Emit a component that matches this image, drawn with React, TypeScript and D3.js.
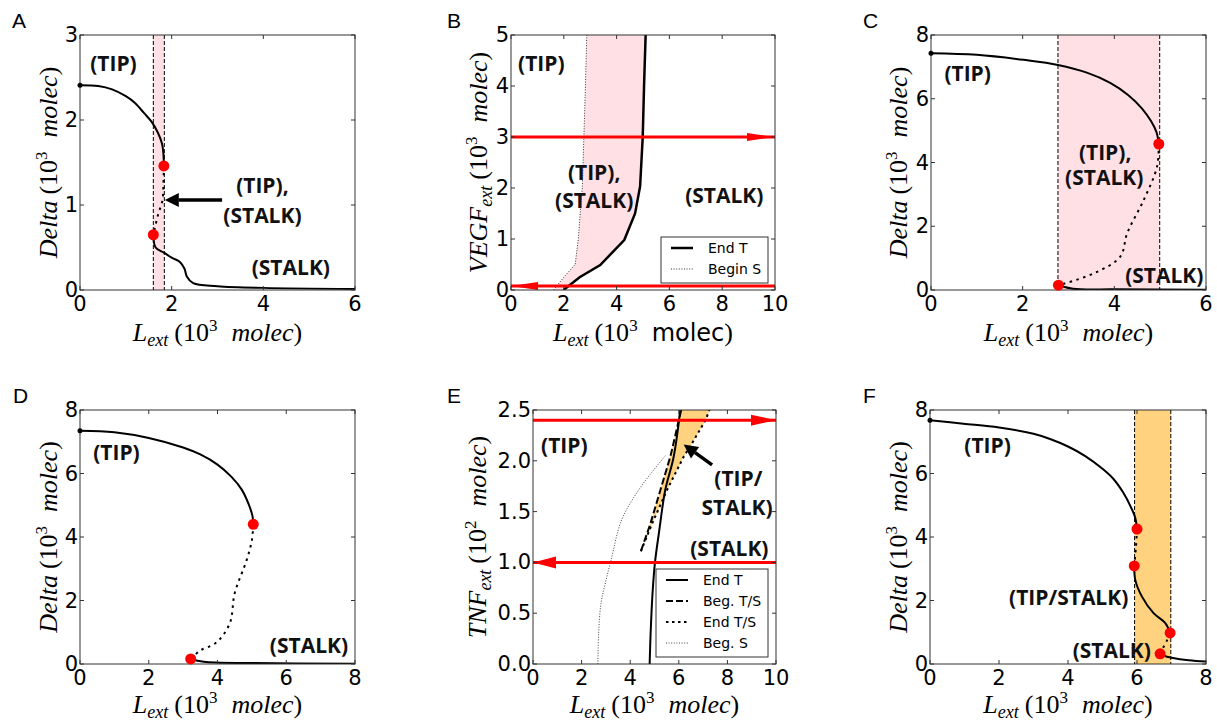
import * as d3 from "d3";
import React from "react";

type Pt = [number, number];

// ---- A: Delta vs L_ext ----
const aTip: Pt[] = [[0, 2.41], [0.4, 2.4], [0.7, 2.36], [1.0, 2.28], [1.2, 2.2], [1.4, 2.08], [1.56, 1.98], [1.7, 1.85], [1.79, 1.72], [1.82, 1.6], [1.83, 1.46]];
const aMid: Pt[] = [[1.83, 1.46], [1.82, 1.25], [1.8, 1.06], [1.7, 0.88], [1.6, 0.65]];
const aStalk: Pt[] = [[1.6, 0.65], [1.65, 0.5], [1.83, 0.44], [2.0, 0.38], [2.18, 0.33], [2.28, 0.25], [2.33, 0.16], [2.47, 0.08], [3.0, 0.045], [4.0, 0.025], [6.0, 0.012]];
const aBand: Pt = [1.6, 1.84];
const aDots: Pt[] = [[1.83, 1.46], [1.6, 0.65]];

// ---- B: VEGF_ext vs L_ext ----
const bEndT: Pt[] = [[1.99, 0], [2.6, 0.25], [3.38, 0.49], [4.29, 0.98], [4.7, 1.5], [4.89, 2.03], [4.99, 3.0], [5.04, 4.0], [5.1, 5.0]];
const bBeginS: Pt[] = [[1.61, 0], [2.0, 0.25], [2.43, 0.5], [2.55, 1.0], [2.62, 1.5], [2.7, 2.0], [2.76, 3.0], [2.82, 4.0], [2.87, 5.0]];
const bVegfHigh = 3;
const bVegfLow = 0.08;

// ---- C ----
const cTip: Pt[] = [[0, 7.43], [1.0, 7.38], [2.02, 7.22], [2.77, 7.06], [3.4, 6.82], [3.91, 6.5], [4.3, 6.12], [4.6, 5.7], [4.8, 5.3], [4.92, 4.95], [4.97, 4.58]];
const cMid: Pt[] = [[4.97, 4.58], [4.93, 3.86], [4.64, 2.82], [4.28, 1.78], [4.13, 1.05], [3.55, 0.52], [2.78, 0.15]];
const cStalk: Pt[] = [[2.78, 0.15], [3.1, 0.04], [4, 0.02], [6, 0.01]];
const cBand: Pt = [2.77, 4.99];
const cDots: Pt[] = [[4.97, 4.58], [2.78, 0.15]];

// ---- D ----
const dTip: Pt[] = [[0, 7.35], [1, 7.3], [2, 7.12], [3.0, 6.82], [3.5, 6.6], [4.0, 6.28], [4.4, 5.9], [4.7, 5.5], [4.9, 5.05], [5.02, 4.65], [5.04, 4.4]];
const dMid: Pt[] = [[5.04, 4.4], [5.0, 3.9], [4.85, 3.28], [4.5, 2.23], [4.36, 1.29], [3.97, 0.68], [3.49, 0.42], [3.22, 0.16]];
const dStalk: Pt[] = [[3.22, 0.16], [3.6, 0.07], [5, 0.03], [8, 0.01]];
const dDots: Pt[] = [[5.04, 4.4], [3.22, 0.16]];

// ---- E: TNF_ext vs L_ext ----
const eEndT: Pt[] = [[4.8, 0], [4.84, 0.3], [4.92, 0.7], [5.02, 1.0], [5.2, 1.32], [5.44, 1.71], [5.79, 2.04], [6.06, 2.5]];
const eBegTS: Pt[] = [[4.44, 1.11], [4.83, 1.38], [5.24, 1.71], [5.65, 2.04], [5.78, 2.17], [6.0, 2.4], [6.1, 2.5]];
const eEndTS: Pt[] = [[4.44, 1.11], [4.9, 1.38], [5.51, 1.71], [6.2, 2.04], [6.54, 2.17], [7.1, 2.4], [7.26, 2.5]];
const eBegS: Pt[] = [[2.67, 0], [2.7, 0.3], [2.8, 0.6], [2.98, 0.8], [3.22, 1.03], [3.65, 1.42], [4.34, 1.71], [5.0, 1.92], [5.45, 2.05]];
const eTnfHigh = 2.4;
const eTnfLow = 1.0;

// ---- F ----
const fTip: Pt[] = [[0, 7.68], [0.97, 7.57], [2, 7.45], [3, 7.25], [3.5, 7.08], [4, 6.85], [4.5, 6.55], [5.0, 6.15], [5.3, 5.85], [5.6, 5.4], [5.82, 4.95], [5.95, 4.6], [6.0, 4.25]];
const fMid1: Pt[] = [[6.0, 4.25], [5.97, 3.7], [5.92, 3.09]];
const fMid: Pt[] = [[5.92, 3.09], [5.95, 2.65], [6.14, 2.13], [6.48, 1.6], [6.82, 1.29], [6.96, 0.98]];
const fMid2: Pt[] = [[6.96, 0.98], [6.85, 0.7], [6.75, 0.5], [6.67, 0.32]];
const fStalk: Pt[] = [[6.67, 0.32], [6.8, 0.25], [7.0, 0.2], [7.5, 0.12], [8, 0.08]];
const fBand: Pt = [5.93, 6.98];
const fDots: Pt[] = [[6.0, 4.25], [5.92, 3.09], [6.96, 0.98], [6.67, 0.32]];

// ticks
const ticks0to6 = [0, 2, 4, 6];
const ticks0to8 = [0, 2, 4, 6, 8];
const ticks0to10 = [0, 2, 4, 6, 8, 10];
const ticksA = [0, 1, 2, 3];
const ticksB = [0, 1, 2, 3, 4, 5];
const ticksE = [0, 0.5, 1, 1.5, 2, 2.5];

const SERIF = "'Liberation Serif', 'DejaVu Serif', serif";
const SANS = "'DejaVu Sans', sans-serif";
const BOLD = "'Open Sans', 'DejaVu Sans', sans-serif";
const PINK = "#ffe0e5";
const ORANGE = "#ffd280";
const DOT = "2.5,4.5";

const smooth = d3.curveCatmullRom.alpha(0.5);

function pathOf(x: any, y: any, pts: Pt[], curve: any = smooth) {
  return d3.line<Pt>().x((d) => x(d[0])).y((d) => y(d[1])).curve(curve)(pts) || "";
}

function Curve({ d, dash, w = 2, color = "#000" }: any) {
  return <path d={d} fill="none" stroke={color} strokeWidth={w} strokeDasharray={dash} />;
}

function Band({ x, y, band, fill }: any) {
  const [b, t] = y.range();
  return (
    <g>
      <rect x={x(band[0])} y={t} width={x(band[1]) - x(band[0])} height={b - t} fill={fill} />
      {band.map((v: number, i: number) => (
        <line key={i} x1={x(v)} x2={x(v)} y1={t} y2={b} stroke="#000" strokeWidth={1} strokeDasharray="4,2" />
      ))}
    </g>
  );
}

function RedArrow({ x, y, level, dir, head = 26, half = 5 }: any) {
  const [x0, x1] = x.range();
  const py = y(level);
  const tip = dir === "right" ? x1 : x0;
  const base = dir === "right" ? tip - head : tip + head;
  return (
    <g>
      <line x1={x0} x2={x1} y1={py} y2={py} stroke="#ff0000" strokeWidth={3} />
      <path d={`M${tip},${py}L${base},${py - half}L${base},${py + half}Z`} fill="#ff0000" />
    </g>
  );
}

function BlackArrow({ x, y, from, to }: any) {
  const x0 = x(from[0]), y0 = y(from[1]), x1 = x(to[0]), y1 = y(to[1]);
  const len = Math.hypot(x1 - x0, y1 - y0);
  const ux = (x1 - x0) / len, uy = (y1 - y0) / len;
  const hl = 14, hw = 7;
  const bx = x1 - ux * hl, by = y1 - uy * hl;
  return (
    <g>
      <line x1={x0} y1={y0} x2={bx} y2={by} stroke="#000" strokeWidth={3.5} />
      <path d={`M${x1},${y1}L${bx - uy * hw},${by + ux * hw}L${bx + uy * hw},${by - ux * hw}Z`} fill="#000" />
    </g>
  );
}

function Dots({ x, y, pts }: any) {
  return <g>{pts.map((p: Pt, i: number) => <circle key={i} cx={x(p[0])} cy={y(p[1])} r={5.5} fill="#ff0000" />)}</g>;
}

function StartMark({ x, y, p }: any) {
  return <circle cx={x(p[0])} cy={y(p[1])} r={2.5} fill="#000" />;
}

function Note({ x, y, at, children }: any) {
  return (
    <text x={x(at[0])} y={y(at[1])} textAnchor="middle" dominantBaseline="central" fontFamily={BOLD} fontWeight={700} fontSize={21} fill="#111">
      {children}
    </text>
  );
}

function Legend({ left, top, w, rows }: any) {
  return (
    <g>
      <rect x={left} y={top} width={w} height={rows.length * 21 + 4} fill="#fff" stroke="#333" strokeWidth={1} />
      {rows.map((r: any, i: number) => {
        const cy = top + 11 + i * 21;
        return (
          <g key={i}>
            <line x1={left + 10} x2={left + 32} y1={cy} y2={cy} stroke={r.color || "#000"} strokeWidth={r.w} strokeDasharray={r.dash} />
            <text x={left + 47} y={cy} dominantBaseline="central" fontFamily={SANS} fontSize={14}>{r.label}</text>
          </g>
        );
      })}
    </g>
  );
}

function MathLabel({ main, sub, exp, unitSans }: any) {
  return (
    <>
      <tspan fontStyle="italic">{main}</tspan>
      {sub ? <tspan fontStyle="italic" fontSize={18} dy={5}>{sub}</tspan> : null}
      <tspan dy={sub ? -5 : 0} dx={6}>(10</tspan>
      <tspan fontSize={17} dy={-10}>{exp}</tspan>
      {unitSans ? (
        <tspan dy={10} dx={14} fontFamily={SANS} fontSize={24}>molec</tspan>
      ) : (
        <tspan dy={10} dx={14} fontStyle="italic">molec</tspan>
      )}
      <tspan>)</tspan>
    </>
  );
}

function Panel({ id, box, xd, yd, xt, yt, yf, letter, letterX, xLabel, yLabel, yGap, xGap = 51, render }: any) {
  const x = d3.scaleLinear().domain(xd).range([box.l, box.r]);
  const y = d3.scaleLinear().domain(yd).range([box.b, box.t]);
  const { clip, over } = render(x, y);
  const fmt = yf || ((v: number) => String(v));
  const tl = 4;
  return (
    <g>
      <clipPath id={`clip-${id}`}>
        <rect x={box.l} y={box.t} width={box.r - box.l} height={box.b - box.t} />
      </clipPath>
      <g clipPath={`url(#clip-${id})`}>{clip}</g>
      <rect x={box.l} y={box.t} width={box.r - box.l} height={box.b - box.t} fill="none" stroke="#333" strokeWidth={1} />
      {xt.map((v: number) => (
        <g key={`x${v}`}>
          <line x1={x(v)} x2={x(v)} y1={box.b} y2={box.b - tl} stroke="#333" />
          <line x1={x(v)} x2={x(v)} y1={box.t} y2={box.t + tl} stroke="#333" />
          <text x={x(v)} y={box.b + 21} textAnchor="middle" fontFamily={SANS} fontSize={21}>{v}</text>
        </g>
      ))}
      {yt.map((v: number) => (
        <g key={`y${v}`}>
          <line x1={box.l} x2={box.l + tl} y1={y(v)} y2={y(v)} stroke="#333" />
          <line x1={box.r} x2={box.r - tl} y1={y(v)} y2={y(v)} stroke="#333" />
          <text x={box.l - 2} y={y(v)} textAnchor="end" dominantBaseline="central" fontFamily={SANS} fontSize={21}>{fmt(v)}</text>
        </g>
      ))}
      {over}
      <text x={letterX} y={box.t - 7} fontFamily="'Liberation Sans', Arial, sans-serif" fontSize={21}>{letter}</text>
      <text x={(box.l + box.r) / 2} y={box.b + xGap} textAnchor="middle" fontFamily={SERIF} fontSize={26}>{xLabel}</text>
      <text transform={`translate(${box.l - yGap},${(box.t + box.b) / 2}) rotate(-90)`} textAnchor="middle" fontFamily={SERIF} fontSize={26}>{yLabel}</text>
    </g>
  );
}

const xLab = <MathLabel main="L" sub="ext" exp="3" />;
const deltaLab = <MathLabel main="Delta" exp="3" />;

export default function App() {
  return (
    <svg width={1217} height={723} viewBox="0 0 1217 723" style={{ position: "absolute", left: 0, top: 0, background: "#fff" }}>
      <Panel id="A" box={{ l: 80, r: 355, t: 35, b: 290 }} xd={[0, 6]} yd={[0, 3]} xt={ticks0to6} yt={ticksA}
        letter="A" letterX={12} xLabel={xLab} yLabel={deltaLab} yGap={23}
        render={(x: any, y: any) => ({
          clip: (
            <g>
              <Band x={x} y={y} band={aBand} fill={PINK} />
              <Curve d={pathOf(x, y, aTip)} />
              <Curve d={pathOf(x, y, aMid)} dash={DOT} />
              <Curve d={pathOf(x, y, aStalk)} />
            </g>
          ),
          over: (
            <g>
              <StartMark x={x} y={y} p={aTip[0]} />
              <Dots x={x} y={y} pts={aDots} />
              <Note x={x} y={y} at={[0.73, 2.67]}>(TIP)</Note>
              <Note x={x} y={y} at={[3.98, 1.235]}>(TIP),</Note>
              <Note x={x} y={y} at={[3.98, 0.88]}>(STALK)</Note>
              <Note x={x} y={y} at={[4.6, 0.27]}>(STALK)</Note>
              <BlackArrow x={x} y={y} from={[3.1, 1.06]} to={[1.85, 1.06]} />
            </g>
          ),
        })}
      />
      <Panel id="B" box={{ l: 511, r: 775, t: 35, b: 290 }} xd={[0, 10]} yd={[0, 5]} xt={ticks0to10} yt={ticksB}
        letter="B" letterX={447} xLabel={<MathLabel main="L" sub="ext" exp="3" unitSans />}
        yLabel={<MathLabel main="VEGF" sub="ext" exp="3" />} yGap={24}
        render={(x: any, y: any) => ({
          clip: (
            <g>
              <path d={pathOf(x, y, bBeginS.concat(bEndT.slice().reverse()), d3.curveLinear) + "Z"} fill={PINK} />
              <Curve d={pathOf(x, y, bBeginS, d3.curveLinear)} dash="1,1.6" w={1} color="#333" />
              <Curve d={pathOf(x, y, bEndT, d3.curveLinear)} w={2.5} />
              <RedArrow x={x} y={y} level={bVegfHigh} dir="right" head={28} half={4} />
              <RedArrow x={x} y={y} level={bVegfLow} dir="left" head={27} half={4} />
            </g>
          ),
          over: (
            <g>
              <Note x={x} y={y} at={[1.15, 4.45]}>(TIP)</Note>
              <Note x={x} y={y} at={[3.15, 2.31]}>(TIP),</Note>
              <Note x={x} y={y} at={[3.15, 1.76]}>(STALK)</Note>
              <Note x={x} y={y} at={[8.08, 1.86]}>(STALK)</Note>
              <Legend left={661} top={237} w={107} rows={[
                { label: "End T", w: 2.5 },
                { label: "Begin S", w: 1, dash: "1,1.6", color: "#333" },
              ]} />
            </g>
          ),
        })}
      />
      <Panel id="C" box={{ l: 931, r: 1206, t: 35, b: 290 }} xd={[0, 6]} yd={[0, 8]} xt={ticks0to6} yt={ticks0to8}
        letter="C" letterX={863} xLabel={xLab} yLabel={deltaLab} yGap={24}
        render={(x: any, y: any) => ({
          clip: (
            <g>
              <Band x={x} y={y} band={cBand} fill={PINK} />
              <Curve d={pathOf(x, y, cTip)} />
              <Curve d={pathOf(x, y, cMid)} dash={DOT} />
              <Curve d={pathOf(x, y, cStalk)} />
            </g>
          ),
          over: (
            <g>
              <StartMark x={x} y={y} p={cTip[0]} />
              <Dots x={x} y={y} pts={cDots} />
              <Note x={x} y={y} at={[0.8, 6.81]}>(TIP)</Note>
              <Note x={x} y={y} at={[3.8, 4.33]}>(TIP),</Note>
              <Note x={x} y={y} at={[3.78, 3.55]}>(STALK)</Note>
              <Note x={x} y={y} at={[5.09, 0.47]}>(STALK)</Note>
            </g>
          ),
        })}
      />
      <Panel id="D" box={{ l: 80, r: 355, t: 410, b: 664 }} xd={[0, 8]} yd={[0, 8]} xt={ticks0to8} yt={ticks0to8}
        letter="D" letterX={13} xLabel={xLab} yLabel={deltaLab} yGap={23} xGap={49}
        render={(x: any, y: any) => ({
          clip: (
            <g>
              <Curve d={pathOf(x, y, dTip)} />
              <Curve d={pathOf(x, y, dMid)} dash={DOT} />
              <Curve d={pathOf(x, y, dStalk)} />
            </g>
          ),
          over: (
            <g>
              <StartMark x={x} y={y} p={dTip[0]} />
              <Dots x={x} y={y} pts={dDots} />
              <Note x={x} y={y} at={[1.06, 6.68]}>(TIP)</Note>
              <Note x={x} y={y} at={[6.66, 0.61]}>(STALK)</Note>
            </g>
          ),
        })}
      />
      <Panel id="E" box={{ l: 533, r: 776, t: 410, b: 664 }} xd={[0, 10]} yd={[0, 2.5]} xt={ticks0to10} yt={ticksE}
        yf={d3.format(".1f")} letter="E" letterX={447} xLabel={xLab} xGap={49}
        yLabel={<MathLabel main="TNF" sub="ext" exp="2" />} yGap={47}
        render={(x: any, y: any) => ({
          clip: (
            <g>
              <path d={pathOf(x, y, eBegTS.concat(eEndTS.slice().reverse()), d3.curveLinear) + "Z"} fill={ORANGE} />
              <Curve d={pathOf(x, y, eBegS)} dash="1,1.6" w={1} color="#444" />
              <Curve d={pathOf(x, y, eEndTS, d3.curveLinear)} dash="2.5,3.5" />
              <Curve d={pathOf(x, y, eBegTS, d3.curveLinear)} dash="7,3" />
              <Curve d={pathOf(x, y, eEndT)} />
              <RedArrow x={x} y={y} level={eTnfHigh} dir="right" head={25} half={5.5} />
              <RedArrow x={x} y={y} level={eTnfLow} dir="left" head={23} half={6} />
            </g>
          ),
          over: (
            <g>
              <Note x={x} y={y} at={[1.29, 2.16]}>(TIP)</Note>
              <Note x={x} y={y} at={[8.45, 1.83]}>(TIP/</Note>
              <Note x={x} y={y} at={[8.4, 1.545]}>STALK)</Note>
              <Note x={x} y={y} at={[8.08, 1.14]}>(STALK)</Note>
              <BlackArrow x={x} y={y} from={[7.37, 1.96]} to={[6.2, 2.16]} />
              <Legend left={656} top={569} w={112} rows={[
                { label: "End T", w: 2 },
                { label: "Beg. T/S", w: 2, dash: "7,3" },
                { label: "End T/S", w: 2, dash: "2.5,3.5" },
                { label: "Beg. S", w: 1, dash: "1,1.6", color: "#444" },
              ]} />
            </g>
          ),
        })}
      />
      <Panel id="F" box={{ l: 930, r: 1206, t: 410, b: 664 }} xd={[0, 8]} yd={[0, 8]} xt={ticks0to8} yt={ticks0to8}
        letter="F" letterX={863} xLabel={xLab} yLabel={deltaLab} yGap={23} xGap={49}
        render={(x: any, y: any) => ({
          clip: (
            <g>
              <Band x={x} y={y} band={fBand} fill={ORANGE} />
              <Curve d={pathOf(x, y, fTip)} />
              <Curve d={pathOf(x, y, fMid1)} dash={DOT} />
              <Curve d={pathOf(x, y, fMid)} />
              <Curve d={pathOf(x, y, fMid2)} dash={DOT} />
              <Curve d={pathOf(x, y, fStalk)} />
            </g>
          ),
          over: (
            <g>
              <StartMark x={x} y={y} p={fTip[0]} />
              <Dots x={x} y={y} pts={fDots} />
              <Note x={x} y={y} at={[1.67, 6.9]}>(TIP)</Note>
              <Note x={x} y={y} at={[4.02, 2.12]}>(TIP/STALK)</Note>
              <Note x={x} y={y} at={[5.27, 0.45]}>(STALK)</Note>
            </g>
          ),
        })}
      />
    </svg>
  );
}
